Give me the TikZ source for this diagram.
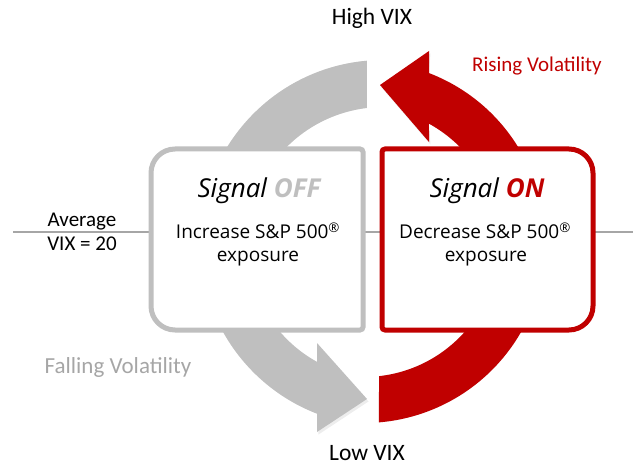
\documentclass[tikz,border=0pt]{standalone}
\usepackage{fontspec}
\setmainfont{Carlito}
\newfontfamily\osans{Open Sans}
\usetikzlibrary{calc}
\definecolor{dred}{HTML}{C00000}
\definecolor{lgray}{HTML}{BFBFBF}
\definecolor{mgray}{HTML}{A6A6A6}
\begin{document}
\begin{tikzpicture}[x=1pt,y=-1pt,
  lbl/.style={inner sep=0pt, font=\fontsize{21}{25}\selectfont},
  biglbl/.style={inner sep=0pt, font=\fontsize{23.5}{28}\selectfont},
  boxtitle/.style={inner sep=0pt, anchor=base, font=\osans\fontsize{26}{31}\selectfont\itshape},
  boxtext/.style={inner sep=0pt, anchor=base, font=\osans\fontsize{19}{23}\selectfont},
  boxline/.style={line width=5pt, fill=white},
  arrowshadow/.style={fill=black, opacity=0.07}]
\useasboundingbox (0,0) rectangle (637,465);
\coordinate (G) at (383,243);
\coordinate (R) at (364,242);
\coordinate (L1) at (13,232);
\coordinate (L2) at (633,232);
\draw[mgray, line width=1.5pt] (L1) -- (L2);
\def\grayarrow{($(G)+(264.98:183)$) arc[start angle=264.98, end angle=111.1, radius=183] -- (317,432) -- (367,399) -- (317,343) -- ($(G)+(119.0:136)$) arc[start angle=119.0, end angle=263.24, radius=136] -- cycle}
\def\redarrow{($(R)+(291.05:181)$) arc[start angle=291.05, end angle=445.25, radius=181] -- ($(R)+(443.62:135)$) arc[start angle=443.62, end angle=298.78, radius=135] -- (429,142) -- (380,85) -- (429,51) -- cycle}
\fill[arrowshadow, xshift=1.5pt, yshift=-2.5pt] \grayarrow;
\fill[arrowshadow, xshift=1.5pt, yshift=-2.5pt] \redarrow;
\fill[lgray] \grayarrow;
\fill[dred] \redarrow;
% boxes
\draw[lgray, boxline] (175,149) -- (360,149) arc[start angle=270, end angle=360, radius=3] -- (363,327) arc[start angle=0, end angle=90, radius=3] -- (175,330) arc[start angle=90, end angle=180, radius=24] -- (151,173) arc[start angle=180, end angle=270, radius=24] -- cycle;
\draw[dred, boxline] (385,149) -- (569,149) arc[start angle=270,end angle=360,radius=24] -- (593,306) arc[start angle=0,end angle=90,radius=24] -- (385,330) arc[start angle=90,end angle=180,radius=3] -- (382,152) arc[start angle=180,end angle=270,radius=3] -- cycle;
% texts
\node[boxtitle] (offt) at (259,198) {Signal \textcolor{lgray}{\bfseries OFF}};
\node[boxtext] (inc1) at (258,239) {Increase S\&P 500\textsuperscript{\char"00AE}};
\node[boxtext] (inc2) at (258,261) {exposure};
\node[boxtitle] (ont) at (487,198) {Signal \textcolor{dred}{\bfseries ON}};
\node[boxtext] (dec1) at (485,239) {Decrease S\&P 500\textsuperscript{\char"00AE}};
\node[boxtext] (dec2) at (486,261) {exposure};
\node[biglbl] (high) at (372,18) {High VIX};
\node[biglbl] (low) at (367,453) {Low VIX};
\node[lbl, text=dred] (rise) at (537,66) {Rising Volatility};
\node[lbl, font=\fontsize{23}{27}\selectfont, text=mgray] (fall) at (118,367) {Falling Volatility};
\node[lbl, anchor=base] (avg1) at (82,226) {Average};
\node[lbl, anchor=base] (avg2) at (82,251) {VIX = 20};
\end{tikzpicture}
\end{document}
